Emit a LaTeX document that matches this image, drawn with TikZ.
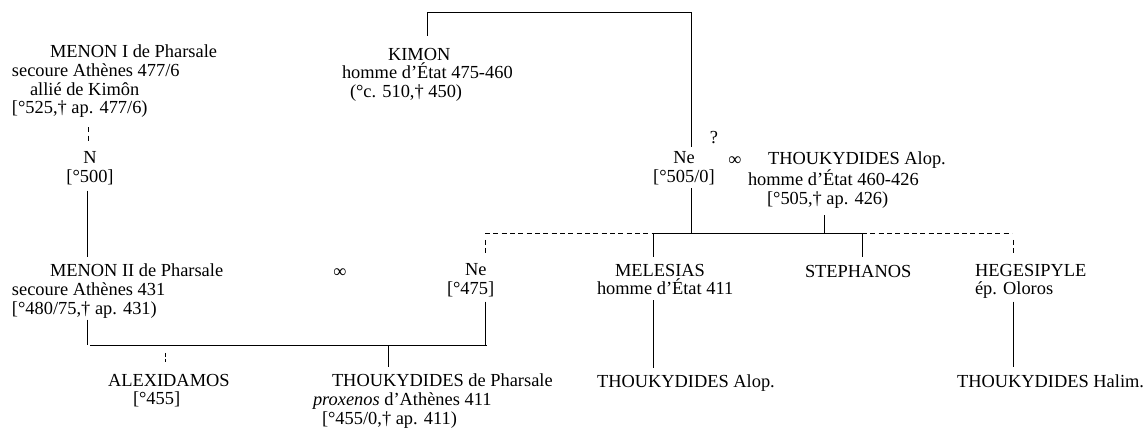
\documentclass[tikz,border=0pt]{standalone}
\usepackage{fontspec}
\setmainfont{Liberation Serif}
\usetikzlibrary{calc}

\tikzset{
  person/.style={anchor=north west, inner sep=0pt, outer sep=0pt, align=left, yshift=9.8pt,
    font=\fontsize{13.8}{14}\selectfont, execute at begin node=\strut, execute at end node=\strut},
  personc/.style={person, anchor=north, align=center},
  sign/.style={anchor=base, inner sep=0pt, font=\fontsize{13.8}{14}\selectfont},
  kin/.style={line width=0.7pt},
  uncertain/.style={line width=0.7pt, dash pattern=on 3.75pt off 2.5pt},
  shorttick/.style={line width=0.7pt, dash pattern=on 3pt off 1.5pt}
}

\begin{document}
\begin{tikzpicture}[x=0.75pt, y=-0.75pt]
\useasboundingbox (0,0) rectangle (1144,432);

\node[person] (kimon) at (342,61) {\hspace*{34.5pt}KIMON\\ homme d’État 475-460\\ \hspace*{6pt}(°c. 510,† 450)};
\node[person] (menonA) at (12,58) {\hspace*{28.5pt}MENON I de Pharsale\\ secoure Athènes 477/6\\ \hspace*{13.5pt}allié de Kimôn\\ {[}°525,† ap. 477/6)};
\node[personc] (nA) at (90,165) {N\\ {[}°500]};
\node[personc] (neA) at (684,165) {Ne\\ {[}°505/0]};
\node[person] (thoukA) at (748,165) {\hspace*{15pt}THOUKYDIDES Alop.\\ homme d’État 460-426\\ \hspace*{14.25pt}{[}°505,† ap. 426)};
\node[sign] (query) at (714,143) {?};
\node[sign] (marA) at (735,165) {∞};

\node[person] (menonB) at (12,277) {\hspace*{28.5pt}MENON II de Pharsale\\ secoure Athènes 431\\ {[}°480/75,† ap. 431)};
\node[sign] (marB) at (340,277) {∞};
\node[person] (neB) at (447,277) {\hspace*{13.5pt}Ne\\ {[}°475]};
\node[person] (melesias) at (597,277) {\hspace*{13.5pt}MELESIAS\\ homme d’État 411};
\node[person] (stephanos) at (805,277) {STEPHANOS};
\node[person] (hegesipyle) at (975,277) {HEGESIPYLE\\ ép. Oloros};

\node[person] (alex) at (108,387) {ALEXIDAMOS\\ \hspace*{18.75pt}{[}°455]};
\node[person] (thoukP) at (313,387) {\hspace*{14.25pt}THOUKYDIDES de Pharsale\\ \textit{proxenos} d’Athènes 411\\ \hspace*{6.75pt}{[}°455/0,† ap. 411)};
\node[person] (thoukB) at (597,387) {THOUKYDIDES Alop.};
\node[person] (thoukH) at (957,387) {THOUKYDIDES Halim.};

\coordinate (kl) at (427,12.5);
\coordinate (kr) at (691,12.5);
\coordinate (mII) at (87,345);
\coordinate (bl) at (90,345);
\coordinate (br) at (487,345);
\coordinate (nb) at (485,345);
\coordinate (tp) at (388,345);
\coordinate (ax) at (165,345);
\coordinate (b3a) at (485,233);
\coordinate (b3b) at (653,233);
\coordinate (b3c) at (862,233);
\coordinate (b3d) at (1012,233);
\coordinate (tx) at (824,233);
\coordinate (hx) at (1013.5,233);

\draw[kin] ([yshift=9pt]kimon.north -| kl) -- (kl) -- (kr) -- ([yshift=3.75pt]neA.north -| kr);
\draw[uncertain] ([yshift=-6pt]menonA.south -| 88,0) -- ([yshift=6.75pt]nA.north -| 88,0);
\draw[kin] ([yshift=-1.8pt]nA.south -| mII) -- ([yshift=5.25pt]menonB.north -| mII);

\draw[kin] (menonB.south -| mII) -- (mII);
\draw[kin] (bl) -- (br);
\draw[kin] ([yshift=-1pt]neB.south -| nb) -- (nb);
\draw[kin] (tp) -- ([yshift=5.25pt]thoukP.north -| tp);
\draw[shorttick] ([yshift=15.75pt]alex.north -| ax) -- ([yshift=9pt]alex.north -| ax);

\draw[uncertain] (b3a) -- (b3b);
\draw[kin] (b3b) -- (b3c);
\draw[uncertain] (b3c) -- (b3d);
\draw[kin] (neA.south -| kr) -- (kr |- b3b);
\draw[kin] ([yshift=-4pt]thoukA.south -| tx) -- (tx);
\draw[uncertain] ([yshift=18pt]neB.north -| b3a) -- ([yshift=8.25pt]neB.north -| b3a);
\draw[kin] (b3b) -- ([yshift=5.25pt]melesias.north -| b3b);
\draw[kin] (b3c) -- ([yshift=5.25pt]stephanos.north -| b3c);
\draw[uncertain] ([yshift=18pt]hegesipyle.north -| hx) -- ([yshift=8.25pt]hegesipyle.north -| hx);

\draw[kin] (melesias.south -| b3b) -- ([yshift=4.5pt]thoukB.north -| b3b);
\draw[kin] ([yshift=-1pt]hegesipyle.south -| hx) -- ([yshift=5.25pt]thoukH.north -| hx);
\end{tikzpicture}
\end{document}
